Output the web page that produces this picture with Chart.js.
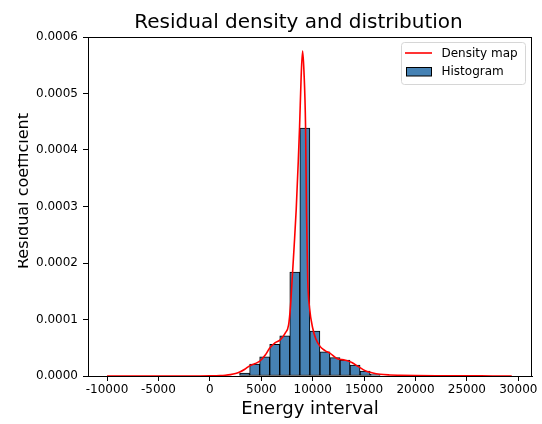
<!DOCTYPE html>
<html><head><meta charset="utf-8">
<script src="https://cdn.jsdelivr.net/npm/chart.js@4/dist/chart.umd.min.js"></script>
<style>html,body{margin:0;padding:0;background:#fff;overflow:hidden}#wrap{position:relative;width:542px;height:424px}</style>
</head><body><div id="wrap"><canvas id="c" width="542" height="424"></canvas></div>
<script>
// ---- data ----
const chartTitle = 'Residual density and distribution';
const xAxisTitle = 'Energy interval';
const yAxisTitle = 'Residual coefficient';
const binEdges = [2892, 3868, 4845, 5821, 6798, 7774, 8751, 9727, 10704, 11680, 12657, 13633, 14610, 15586, 16563];
const histValues = [0.000005, 0.000021, 0.000034, 0.000056, 0.000071, 0.000184, 0.000439, 0.0000796, 0.000043, 0.0000324, 0.0000283, 0.0000195, 0.0000088, 0.000003];
const kdeX = [-10000, -7000, -4000, -1000, 0, 1000, 1500, 2000, 2500, 2960, 3400, 3863, 4416, 4903, 5389, 5806, 6359, 6845, 7330, 7654, 7850, 8000, 8200, 8400, 8600, 8725, 8880, 9020, 9150, 9310, 9400, 9520, 9700, 10000, 10300, 10733, 11200, 11704, 12354, 13160, 13808, 14456, 15105, 15753, 16563, 17500, 18500, 20000, 22000, 25000, 27500, 29360];
const kdeY = [0, 0, 0, 0.0000001, 0.0000003, 0.0000008, 0.0000014, 0.0000025, 0.0000045, 0.0000076, 0.000012, 0.000018, 0.000022, 0.000027, 0.000037, 0.000049, 0.000059, 0.000064, 0.000076, 0.00009, 0.000125, 0.00017, 0.00023, 0.000295, 0.00038, 0.00044, 0.00053, 0.000575, 0.00054, 0.00044, 0.00029, 0.00017, 0.00012, 0.000085, 0.000066, 0.000052, 0.000045, 0.00004, 0.000031, 0.000028, 0.000024, 0.0000165, 0.0000094, 0.0000058, 0.000003, 0.0000018, 0.0000013, 0.0000008, 0.0000004, 0.0000002, 0.0000001, 0];
const xTicks = [-10000, -5000, 0, 5000, 10000, 15000, 20000, 25000, 30000];
const yTicks = [0, 0.0001, 0.0002, 0.0003, 0.0004, 0.0005, 0.0006];

const FONT = "'DejaVu Sans', sans-serif";
const binCenters = histValues.map((v, i) => (binEdges[i] + binEdges[i + 1]) / 2);

const framePlugin = {
  id: 'frame',
  afterDraw(chart) {
    const {ctx, chartArea: a} = chart;
    ctx.save();
    ctx.strokeStyle = '#000';
    ctx.lineWidth = 1;
    ctx.strokeRect(Math.round(a.left) + 0.5, Math.round(a.top) + 0.5, Math.round(a.right - a.left) - 1, Math.round(a.bottom - a.top));
    ctx.restore();
  }
};

const textPlugin = {
  id: 'texts',
  afterDraw(chart) {
    const ctx = chart.ctx;
    ctx.save();
    ctx.fillStyle = '#000';
    ctx.font = '20px ' + FONT;
    ctx.textAlign = 'center';
    ctx.textBaseline = 'alphabetic';
    ctx.fillText(chartTitle, 298.5, 27.5);
    ctx.restore();
    // y axis title (left part cut off as in the reference)
    ctx.save();
    ctx.beginPath();
    ctx.rect(18, 0, 542, 424);
    ctx.clip();
    ctx.translate(27.5, 191);
    ctx.rotate(-Math.PI / 2);
    ctx.fillStyle = '#000';
    ctx.font = '16px ' + FONT;
    ctx.textAlign = 'center';
    ctx.textBaseline = 'alphabetic';
    ctx.fillText(yAxisTitle, 0, 0);
    ctx.restore();
    // legend
    const ds = chart.data.datasets;
    ctx.save();
    ctx.beginPath();
    ctx.roundRect(401.5, 42.5, 124, 42, 3);
    ctx.fillStyle = 'rgba(255,255,255,0.8)';
    ctx.fill();
    ctx.strokeStyle = '#d6d6d6';
    ctx.lineWidth = 1;
    ctx.stroke();
    ctx.beginPath();
    ctx.moveTo(405, 53);
    ctx.lineTo(432, 53);
    ctx.strokeStyle = ds[0].borderColor;
    ctx.lineWidth = 1.6;
    ctx.stroke();
    ctx.fillStyle = ds[1].backgroundColor;
    ctx.fillRect(406.5, 67.5, 25, 8.5);
    ctx.strokeStyle = '#000';
    ctx.lineWidth = 1;
    ctx.strokeRect(406.5, 67.5, 25, 8.5);
    ctx.fillStyle = '#000';
    ctx.font = '12px ' + FONT;
    ctx.textAlign = 'left';
    ctx.textBaseline = 'middle';
    ctx.fillText(ds[0].label, 441.5, 53.5);
    ctx.fillText(ds[1].label, 441.5, 72);
    ctx.restore();
  }
};

new Chart(document.getElementById('c'), {
  type: 'bar',
  data: {
    datasets: [
      {
        type: 'line',
        label: 'Density map',
        data: kdeX.map((x, i) => ({x: x, y: kdeY[i]})),
        borderColor: '#ff0000',
        borderWidth: 1.6,
        pointRadius: 0,
        cubicInterpolationMode: 'monotone',
        fill: false,
        order: 0
      },
      {
        type: 'bar',
        label: 'Histogram',
        data: binCenters.map((x, i) => ({x: x, y: histValues[i]})),
        backgroundColor: '#4682b4',
        borderColor: '#000000',
        borderWidth: 1,
        borderSkipped: false,
        barPercentage: 1,
        categoryPercentage: 1,
        order: 1
      }
    ]
  },
  options: {
    responsive: false,
    animation: false,
    events: [],
    layout: {padding: {top: 37, right: 10, left: 0, bottom: 0}},
    plugins: {legend: {display: false}, title: {display: false}, tooltip: {enabled: false}},
    scales: {
      x: {
        type: 'linear',
        offset: false,
        min: -11850,
        max: 31330,
        afterBuildTicks: s => { s.ticks = xTicks.map(v => ({value: v})); },
        afterFit: s => { s.height = 48; },
        ticks: {
          autoSkip: false, maxRotation: 0, padding: 2, color: '#000',
          font: {family: FONT, size: 12},
          callback: v => String(v)
        },
        grid: {display: true, offset: false, drawOnChartArea: false, drawTicks: true, tickLength: 5, tickColor: '#000', tickWidth: 1},
        border: {display: true, color: '#000', width: 1},
        title: {display: true, text: xAxisTitle, color: '#000', font: {family: FONT, size: 18}, padding: {top: 0, bottom: 4}}
      },
      y: {
        type: 'linear',
        min: 0,
        max: 0.0006,
        afterBuildTicks: s => { s.ticks = yTicks.map(v => ({value: v})); },
        afterFit: s => { s.width = 88; },
        ticks: {
          padding: 5, color: '#000',
          font: {family: FONT, size: 12},
          callback: v => Number(v).toFixed(4)
        },
        grid: {display: true, drawOnChartArea: false, drawTicks: true, tickLength: 5, tickColor: '#000', tickWidth: 1},
        border: {display: true, color: '#000', width: 1}
      }
    }
  },
  plugins: [framePlugin, textPlugin]
});
</script>
</body></html>
